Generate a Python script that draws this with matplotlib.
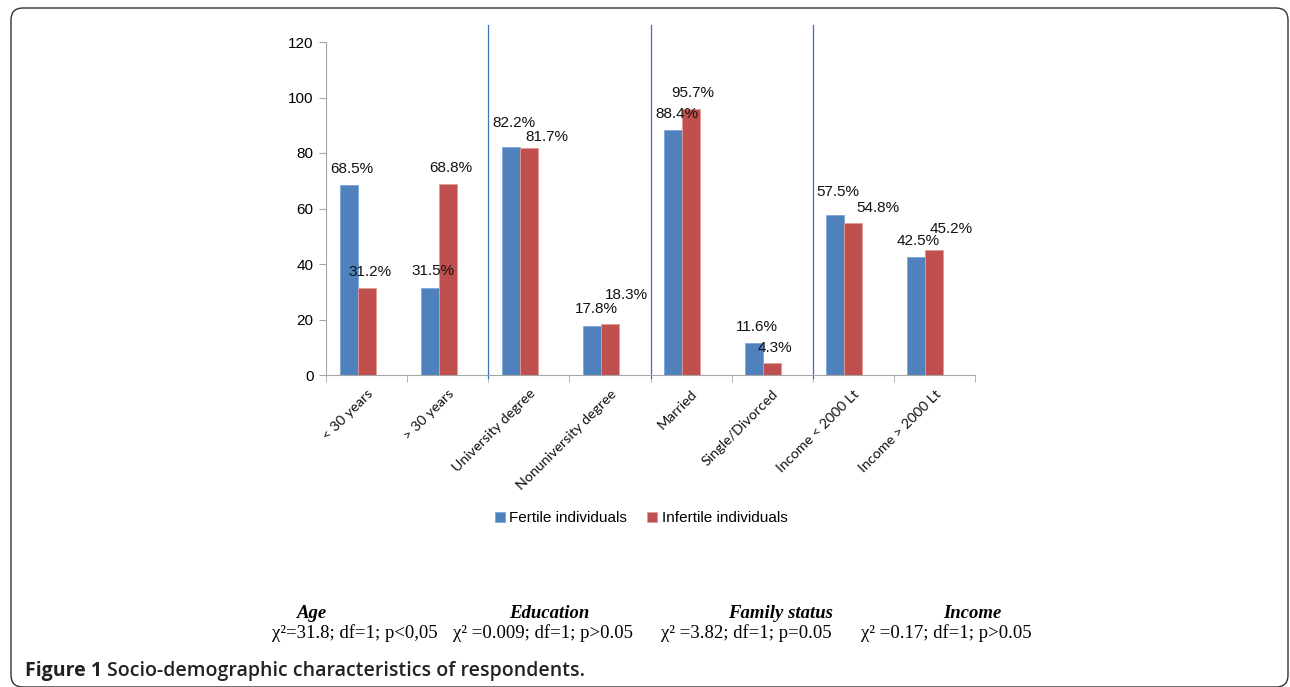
import matplotlib
matplotlib.use('Agg')
import matplotlib.pyplot as plt
import numpy as np
from matplotlib.patches import FancyBboxPatch

categories = ['< 30 years', '> 30 years', 'University degree', 'Nonuniversity degree',
              'Married', 'Single/Divorced', 'Income < 2000 Lt', 'Income > 2000 Lt']
fertile = [68.5, 31.5, 82.2, 17.8, 88.4, 11.6, 57.5, 42.5]
infertile = [31.2, 68.8, 81.7, 18.3, 95.7, 4.3, 54.8, 45.2]
group_names = ['Age', 'Education', 'Family status', 'Income']
group_stats = ['χ²=31.8; df=1; p<0,05', 'χ² =0.009; df=1; p>0.05',
               'χ² =3.82; df=1; p=0.05', 'χ² =0.17; df=1; p>0.05']
caption_bold = 'Figure 1'
caption_text = 'Socio-demographic characteristics of respondents.'

# hand-placed data label offsets (pixels from bar top centre)
fertile_lbl_off = [(3, 16), (3, 16.5), (3, 24), (4, 16.5), (3.5, 15.5), (3, 16), (3, 23), (2, 16)]
infertile_lbl_off = [(3, 16.5), (3, 16.5), (18, 11.5), (17, 29), (2, 16), (3, 15), (25, 15), (17, 20.5)]

blue = '#4F81BD'
red = '#C0504D'
W, H = 1290, 687

fig = plt.figure(figsize=(W / 100, H / 100), dpi=100)

# background layer in pixel coordinates
bg = fig.add_axes([0, 0, 1, 1], zorder=0)
bg.set_xlim(0, W)
bg.set_ylim(H, 0)
bg.axis('off')
bg.add_patch(FancyBboxPatch((11, 8), 1277, 679, boxstyle='round,pad=0,rounding_size=12',
                            fill=False, edgecolor='#333333', linewidth=1.0))

ax = fig.add_axes([326 / W, 1 - 375 / H, 649 / W, 333 / H], zorder=1)
ax.patch.set_alpha(0)
x = np.arange(len(categories))
w = 0.222
b1 = ax.bar(x - w, fertile, w, color=blue, edgecolor='#7FA6D6', linewidth=0.6, label='Fertile individuals')
b2 = ax.bar(x, infertile, w, color=red, edgecolor='#E09A98', linewidth=0.6, label='Infertile individuals')

for bars, vals, offs in [(b1, fertile, fertile_lbl_off), (b2, infertile, infertile_lbl_off)]:
    for rect, v, (dx, dy) in zip(bars, vals, offs):
        ax.annotate(f'{v}%', (rect.get_x() + rect.get_width() / 2, v), xytext=(dx * 0.72, dy * 0.72),
                    textcoords='offset points', ha='center', va='center',
                    fontsize=11, family='Liberation Sans', color='#111111')

ax.set_xlim(-0.5, len(categories) - 0.5)
ax.set_ylim(0, 120)
ax.set_yticks(range(0, 121, 20))
ax.tick_params(axis='y', labelsize=11, color='#A6A6A6', length=5, pad=4)
for t in ax.get_yticklabels():
    t.set_family('Liberation Sans')

ax.set_xticks(x)
ax.set_xticklabels(categories, rotation=45, ha='right', rotation_mode='anchor',
                   fontsize=10.3, family='Lato', color='#111111')
ax.tick_params(axis='x', length=0, pad=9)
ax.set_xticks(np.arange(-0.5, len(categories)), minor=True)
ax.tick_params(axis='x', which='minor', length=5, color='#A6A6A6')

for s in ['top', 'right']:
    ax.spines[s].set_visible(False)
for s in ['left', 'bottom']:
    ax.spines[s].set_color('#A6A6A6')

# group separators
for sx in [1.5, 3.5, 5.5]:
    ax.plot([sx, sx], [-1, 126], color='#3A73B8', linewidth=0.9, clip_on=False)

leg = ax.legend(loc='center', bbox_to_anchor=(641 / W, 1 - 518 / H), bbox_transform=fig.transFigure,
                ncol=2, frameon=False, handlelength=0.65, handleheight=0.65, handletextpad=0.3,
                columnspacing=1.3, prop={'family': 'Liberation Sans', 'size': 11})

# chi-square notes under the chart
name_x = [312, 549, 780, 972]
stat_x = [355, 543, 746, 946]
for nx, sx, nm, st in zip(name_x, stat_x, group_names, group_stats):
    bg.text(nx, 613, nm, ha='center', va='center', fontsize=13.5, family='Liberation Serif',
            style='italic', weight='bold')
    bg.text(sx, 633, st, ha='center', va='center', fontsize=13.5, family='Liberation Serif')

t1 = bg.text(25, 676, caption_bold + ' ', ha='left', va='baseline', fontsize=14, family='Open Sans',
             weight='bold', color='#222222')
fig.canvas.draw()
bb = t1.get_window_extent()
bg.text(25 + bb.width, 676, caption_text, ha='left', va='baseline', fontsize=14, family='Open Sans',
        weight='semibold', color='#222222')

fig.savefig('out.png', dpi=100)
